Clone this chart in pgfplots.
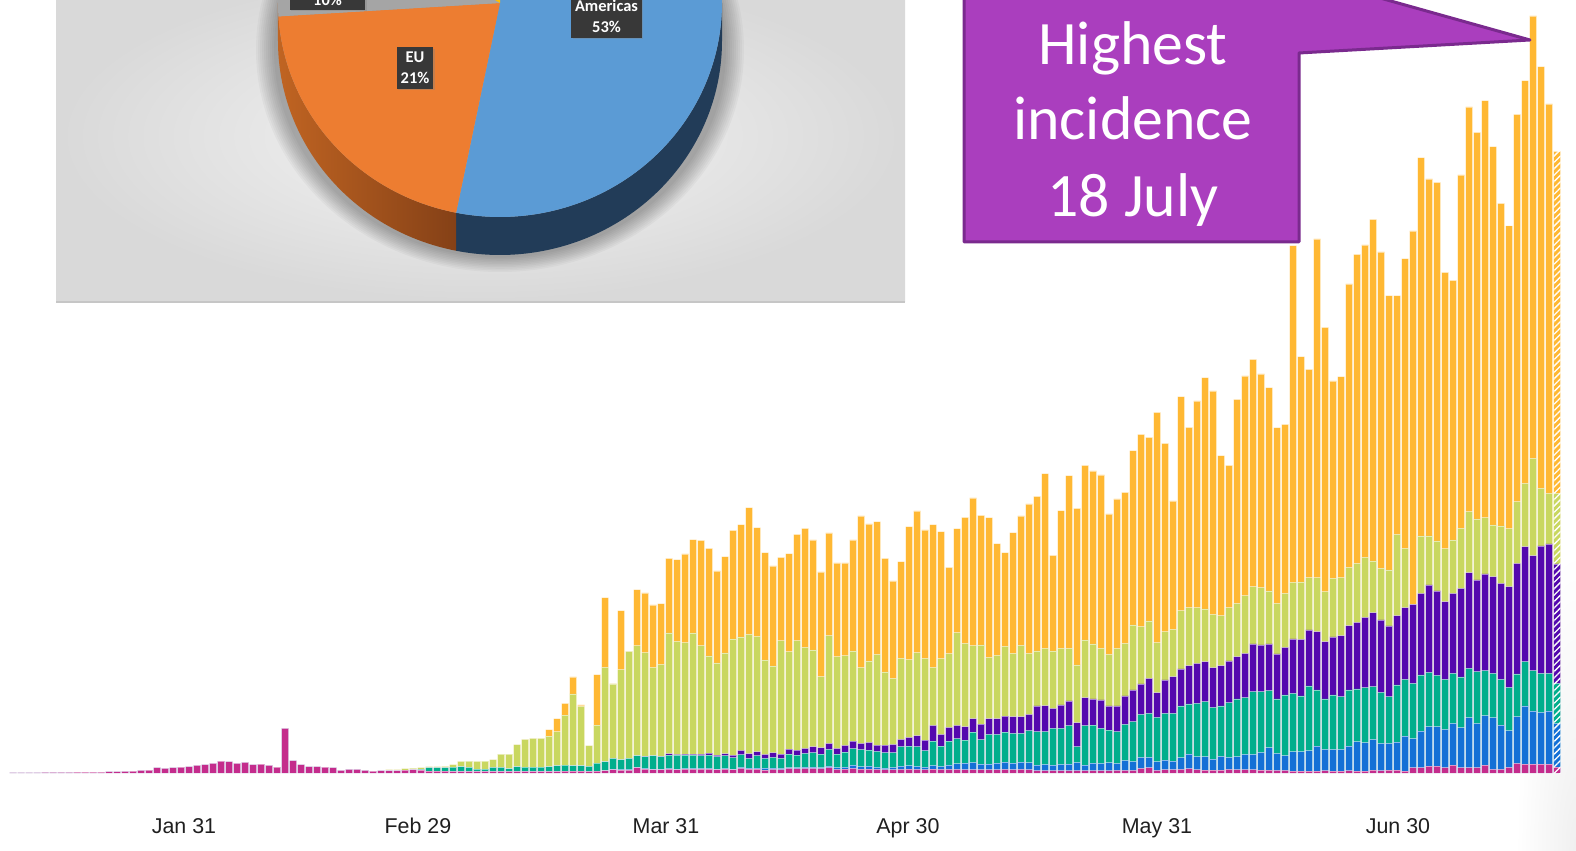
\documentclass[border=0pt]{standalone}
\usepackage{fontspec}
\setmainfont{Liberation Sans}
\newfontfamily\carlito{Carlito}
\usepackage{pgfplots}
\pgfplotsset{compat=1.18}
\usepackage{pgfplotstable}
\usetikzlibrary{patterns.meta,shadows}

\definecolor{cMa}{RGB}{196,44,140}
\definecolor{cBl}{RGB}{20,112,214}
\definecolor{cTe}{RGB}{0,174,140}
\definecolor{cPu}{RGB}{84,8,174}
\definecolor{cGr}{RGB}{201,215,96}
\definecolor{cOr}{RGB}{255,184,51}
\definecolor{pieBlue}{RGB}{91,155,213}
\definecolor{pieOrange}{RGB}{237,125,49}
\definecolor{pieGray}{RGB}{165,165,165}
\definecolor{pieGold}{RGB}{255,192,0}
\definecolor{pieBlueSide}{RGB}{34,60,88}
\definecolor{pieOrLight}{RGB}{192,100,34}
\definecolor{pieOrDark}{RGB}{118,56,20}
\definecolor{calloutFill}{RGB}{170,62,190}
\definecolor{calloutLine}{RGB}{122,42,142}

% cumulative heights of the stacked layers (bottom to top):
% m = magenta, b = blue, t = teal, p = purple, g = light green, o = orange (total)
\pgfplotstableread{
d m b t p g o
10 0.5 0.5 0.5 0.5 0.5 0.5
11 0.5 0.5 0.5 0.5 0.5 0.5
12 0.5 0.5 0.5 0.5 0.5 0.5
13 0.5 0.5 0.5 0.5 0.5 0.5
14 0.6 0.6 0.6 0.6 0.6 0.6
15 0.6 0.6 0.6 0.6 0.6 0.6
16 0.7 0.7 0.7 0.7 0.7 0.7
17 0.7 0.7 0.7 0.7 0.7 0.7
18 0.8 0.8 0.8 0.8 0.8 0.8
19 0.8 0.8 0.8 0.8 0.8 0.8
20 1.0 1.0 1.0 1.0 1.0 1.0
21 1.0 1.0 1.0 1.0 1.0 1.0
22 1.3 1.3 1.3 1.3 1.3 1.3
23 1.5 1.5 1.5 1.5 1.5 1.5
24 1.7 1.7 1.7 1.7 1.7 1.7
25 2.0 2.0 2.0 2.0 2.0 2.0
26 2.7 2.7 2.7 2.7 2.7 2.7
27 3.0 3.0 3.0 3.0 3.0 3.0
28 5.3 5.3 5.3 5.3 5.3 5.3
29 4.7 4.7 4.7 4.7 4.7 4.7
30 5.3 5.3 5.3 5.3 5.3 5.3
31 6.0 6.0 6.0 6.0 6.0 6.0
32 6.3 6.3 6.3 6.3 6.3 6.3
33 7.7 7.7 7.7 7.7 7.7 7.7
34 8.3 8.3 8.3 8.3 8.3 8.3
35 9.7 9.7 9.7 9.7 9.7 9.7
36 12.0 12.0 12.0 12.0 12.0 12.0
37 11.3 11.3 11.3 11.3 11.3 11.3
38 9.7 9.7 9.7 9.7 9.7 9.7
39 10.7 10.7 10.7 10.7 10.7 10.7
40 8.3 8.3 8.3 8.3 8.3 8.3
41 9.0 9.0 9.0 9.0 9.0 9.0
42 7.7 7.7 7.7 7.7 7.7 7.7
43 6.0 6.0 6.0 6.0 6.0 6.0
44 44.7 44.7 44.7 44.7 44.7 44.7
45 12.3 12.3 12.3 12.3 12.3 12.3
46 8.3 8.3 8.3 8.3 8.3 8.3
47 6.3 6.3 6.3 6.3 6.3 6.3
48 6.3 6.3 6.3 6.3 6.3 6.3
49 6.0 6.0 6.0 6.0 6.0 6.0
50 5.3 5.3 5.3 5.3 5.3 5.3
51 2.7 2.7 2.7 2.7 2.7 2.7
52 3.7 3.7 3.7 3.7 3.7 3.7
53 3.7 3.7 3.7 3.7 3.7 3.7
54 2.7 2.7 2.7 2.7 2.7 2.7
55 2.0 2.0 2.0 2.0 2.0 2.0
56 2.3 2.3 2.3 2.3 2.3 2.3
57 2.3 2.3 2.3 2.3 3.3 3.3
58 2.3 2.3 2.3 2.3 3.3 3.3
59 3.0 3.0 3.0 3.0 4.3 4.3
60 3.3 3.3 3.3 3.3 5.0 5.0
61 3.0 3.0 3.7 3.7 5.3 5.3
62 2.0 2.0 5.3 5.3 6.3 6.3
63 2.0 2.0 5.3 5.3 6.3 6.3
64 2.0 2.0 5.3 5.3 6.7 6.7
65 1.7 1.7 6.0 6.0 8.3 8.3
66 1.7 1.7 6.3 6.3 11.7 11.7
67 1.7 1.7 5.7 5.7 12.0 12.0
68 1.7 1.7 4.0 4.0 11.7 11.7
69 1.7 1.7 4.0 4.0 12.0 12.0
70 1.7 1.7 5.7 5.7 13.3 13.3
71 1.7 1.7 5.7 5.7 19.0 19.0
72 1.7 1.7 4.3 4.3 19.0 19.0
73 1.7 1.7 6.3 6.3 28.3 28.3
74 1.7 1.7 6.0 6.0 33.7 33.7
75 1.7 1.7 6.0 6.0 34.7 34.7
76 1.7 1.7 6.0 6.0 34.7 34.7
77 1.7 1.7 6.3 6.3 37.0 43.3
78 1.7 1.7 7.3 7.3 41.5 54.3
79 2.0 2.0 8.0 8.0 58.0 69.7
80 2.0 2.0 7.3 7.3 79.0 96.0
81 2.0 2.0 7.3 7.3 66.7 68.0
82 1.7 1.7 6.7 6.7 27.3 27.3
83 2.0 2.0 10.0 10.0 48.0 98.3
84 2.3 2.3 11.3 11.3 105.7 175.3
85 3.3 4.0 14.7 14.7 89.0 89.0
86 3.0 3.7 13.3 13.3 103.3 162.3
87 3.0 3.7 14.7 14.7 121.7 121.7
88 5.3 6.0 17.3 17.3 127.3 183.3
89 4.0 4.7 16.3 17.0 120.3 180.0
90 3.3 4.0 17.3 17.3 105.7 168.0
91 3.3 4.0 16.3 17.0 108.7 169.3
92 4.0 4.7 18.0 19.3 140.0 214.7
93 3.3 4.0 18.0 18.7 131.7 213.3
94 4.0 4.7 18.0 19.0 130.3 219.0
95 4.0 4.7 18.0 19.0 140.0 233.3
96 4.0 4.7 17.3 19.0 127.3 232.7
97 4.0 4.7 18.0 20.0 117.0 224.7
98 3.3 4.0 16.3 18.0 110.0 202.0
99 4.0 4.7 17.3 19.3 120.0 216.3
100 3.3 4.0 15.3 18.0 134.0 242.7
101 4.7 5.7 18.3 22.7 136.0 248.3
102 4.0 5.0 14.7 19.3 138.7 265.3
103 4.0 5.0 17.3 21.3 136.7 245.3
104 3.0 5.0 14.7 18.7 113.0 220.3
105 3.7 5.0 15.7 20.3 107.0 207.0
106 3.3 4.7 14.7 19.0 132.3 215.7
107 4.7 5.5 19.0 24.0 121.3 219.3
108 4.3 5.5 18.0 23.0 132.3 238.7
109 4.7 6.0 19.7 24.7 125.7 244.7
110 4.7 6.0 20.3 26.3 123.0 233.0
111 4.3 5.5 19.0 25.3 96.3 201.0
112 5.3 7.0 23.7 29.7 137.3 240.0
113 3.7 5.5 19.0 24.7 116.3 210.0
114 4.0 6.0 21.0 27.7 117.3 210.0
115 4.7 8.0 24.3 32.0 122.0 233.0
116 4.0 6.3 23.3 29.7 105.3 257.0
117 4.0 7.0 23.0 30.7 112.0 249.0
118 3.7 5.7 21.7 28.0 118.7 251.3
119 3.3 5.0 20.3 28.0 101.0 214.7
120 3.3 5.7 20.3 28.7 94.7 192.0
121 3.7 7.0 26.3 33.7 114.7 211.3
122 4.0 7.3 27.0 35.7 113.3 246.3
123 3.7 6.7 26.3 37.3 120.3 262.0
124 3.3 6.0 22.3 33.0 114.7 243.0
125 4.0 7.7 32.0 47.7 105.7 248.3
126 3.7 6.7 27.0 38.7 114.3 241.3
127 3.7 8.0 32.0 45.7 119.3 205.7
128 3.7 9.3 34.3 47.7 140.3 244.3
129 3.3 10.0 33.0 46.3 129.7 255.7
130 3.3 10.7 41.0 54.3 127.3 275.0
131 3.3 9.0 33.3 49.0 128.0 257.7
132 3.3 9.0 38.7 54.3 115.7 255.3
133 3.3 10.0 38.7 54.3 117.7 229.3
134 3.7 11.0 41.0 57.0 126.7 220.3
135 3.3 10.0 39.7 56.3 119.7 240.3
136 3.7 11.0 39.7 56.3 127.7 257.0
137 3.3 10.3 42.3 58.7 119.7 269.0
138 2.3 8.0 41.3 67.0 122.0 276.7
139 2.3 8.7 41.3 67.3 124.7 299.3
140 2.3 8.0 44.7 64.7 122.0 217.7
141 2.3 8.7 44.7 68.0 124.7 262.3
142 2.3 9.0 47.3 72.0 124.7 297.3
143 2.3 10.7 26.3 50.3 108.0 264.7
144 2.3 8.0 47.3 75.3 133.0 307.7
145 2.3 10.0 48.0 74.0 129.0 302.0
146 2.3 9.7 44.7 73.0 124.7 298.0
147 2.3 10.3 43.0 67.0 118.7 259.0
148 2.7 9.7 41.3 67.0 124.7 274.0
149 2.7 12.7 48.7 77.0 129.7 280.7
150 2.7 11.7 51.3 83.0 148.0 322.3
151 4.7 15.7 58.7 89.0 146.3 338.7
152 5.3 15.7 59.7 94.7 152.0 335.7
153 2.7 11.3 55.7 80.3 130.3 360.7
154 3.3 13.0 59.7 93.0 141.3 329.7
155 3.3 12.0 59.7 96.3 143.7 272.0
156 3.7 15.3 67.0 104.0 162.3 376.3
157 4.3 19.0 69.0 107.3 165.3 345.7
158 3.3 16.3 69.7 109.7 165.3 372.0
159 3.0 16.3 71.3 111.3 164.0 395.3
160 3.0 14.0 65.7 105.3 158.7 382.0
161 3.0 16.7 67.0 107.3 157.3 317.3
162 3.7 15.7 70.3 112.0 165.3 307.7
163 3.3 16.3 74.0 116.3 169.7 373.7
164 3.3 18.7 75.3 119.7 177.3 397.0
165 3.3 18.7 81.3 129.0 186.3 413.7
166 3.0 20.7 81.3 128.0 185.3 399.0
167 3.0 25.3 82.3 129.0 182.0 385.3
168 2.7 19.7 74.0 119.0 169.7 345.3
169 2.7 17.5 78.0 125.5 179.7 348.7
170 2.0 21.3 79.7 134.0 190.5 527.3
171 2.0 21.3 77.0 133.7 191.0 416.3
172 2.0 22.3 87.0 143.0 195.3 403.7
173 2.0 27.0 83.0 141.3 195.3 534.0
174 2.3 23.7 74.0 131.3 181.3 445.7
175 2.0 23.7 78.0 136.0 194.7 392.0
176 2.0 23.7 76.3 137.3 195.3 396.3
177 2.3 27.0 83.0 147.3 205.7 489.0
178 2.0 31.3 84.0 150.7 209.7 518.7
179 2.0 30.3 85.3 155.7 215.7 528.0
180 3.0 33.7 86.3 160.3 212.0 553.7
181 2.3 29.7 80.7 153.0 204.7 521.0
182 3.0 29.7 76.3 147.0 203.0 477.3
183 3.0 31.0 88.0 157.3 238.7 477.3
184 2.0 37.0 93.7 165.3 224.7 514.3
185 5.3 34.3 89.7 168.7 168.7 542.0
186 5.3 42.0 98.0 179.7 237.0 615.3
187 7.0 46.3 100.7 188.0 237.0 594.0
188 7.0 46.3 97.7 182.0 232.0 590.7
189 5.3 43.7 93.7 171.3 224.3 500.7
190 8.0 49.7 99.7 179.7 233.0 492.7
191 5.3 45.3 96.0 184.7 244.7 598.0
192 5.3 55.3 104.7 200.3 261.3 666.0
193 5.3 49.7 101.3 193.0 254.0 640.5
194 8.0 57.3 102.3 199.0 255.3 672.3
195 3.7 55.3 99.7 196.3 248.0 626.3
196 3.7 48.0 93.7 189.7 247.0 569.7
197 5.7 42.3 85.7 186.3 244.3 547.2
198 9.7 56.3 99.0 209.7 271.3 658.7
199 9.0 67.0 111.3 226.3 289.7 692.3
200 9.0 62.0 102.3 217.3 314.7 757.0
201 9.0 60.7 99.7 227.0 284.7 706.3
202 9.0 62.0 99.7 229.0 279.7 669.0
203 6.0 49.7 89.7 209.0 279.7 621.7
}\bars

\pgfplotstableread{
d o
203 621.7
}\lastbar

\begin{document}
\begin{tikzpicture}
\useasboundingbox (0,-78bp) rectangle (1576bp,773bp);

% ---------- pie chart inset (pixel coordinates, origin top-left) ----------
\begin{scope}[shift={(0,773bp)}, x=1bp, y=-1bp]
  \shade[inner color=gray!8, outer color=gray!30] (56,-30) rectangle (905,302);
  \draw[gray!45, line width=1.2bp] (56,302) -- (905,302);
  % soft shadow of the pie
  \foreach \k in {0,...,9} {
    \fill[black, opacity=0.032] (500,50) ellipse [x radius={(244-2*\k)*1bp}, y radius={(222-1.6*\k)*1bp}];
  }
  % sides
  \fill[pieBlueSide] (500,3) ++(0:222bp and 214bp)
     arc[start angle=0, end angle=-101.4, x radius=222bp, y radius=214bp]
     -- ++(0,38)
     arc[start angle=-101.4, end angle=0, x radius=222bp, y radius=214bp] -- cycle;
  \shade[left color=pieOrLight, right color=pieOrDark] (500,3) ++(-101.4:222bp and 214bp)
     arc[start angle=-101.4, end angle=-180, x radius=222bp, y radius=214bp]
     -- ++(0,38)
     arc[start angle=-180, end angle=-101.4, x radius=222bp, y radius=214bp] -- cycle;
  % top faces
  \fill[pieBlue] (500,3) -- ++(89.4:222bp and 214bp)
     arc[start angle=89.4, end angle=-101.4, x radius=222bp, y radius=214bp] -- cycle;
  \fill[pieOrange] (500,3) -- ++(-101.4:222bp and 214bp)
     arc[start angle=-101.4, end angle=-176.4, x radius=222bp, y radius=214bp] -- cycle;
  \fill[pieGray] (500,3) -- ++(-176.4:222bp and 214bp)
     arc[start angle=-176.4, end angle=-212.4, x radius=222bp, y radius=214bp] -- cycle;
  \fill[pieGold] (500,3) -- ++(-212.4:222bp and 214bp)
     arc[start angle=-212.4, end angle=-270.6, x radius=222bp, y radius=214bp] -- cycle;
  % data labels
  \tikzset{plab/.style={fill=black!78, text=white, align=center,
      font=\carlito\bfseries\fontsize{16.5}{21}\selectfont,
      inner xsep=4bp, inner ysep=5bp,
      drop shadow={shadow xshift=1.5bp, shadow yshift=-1.5bp, opacity=0.35}}}
  \node[plab] at (415,68) {EU\\21\%};
  \node[plab, anchor=south] at (606.5,38) {Americas\\53\%};
  \node[plab, anchor=south, minimum width=75bp, inner ysep=4bp] at (327.5,10) {10\%};
  % faint corner shading bottom right
  \shade[inner color=gray!12, outer color=white] (1576,851) ellipse [x radius=60bp, y radius=300bp];
\end{scope}

% ---------- stacked daily bars ----------
\begin{axis}[
  at={(0,0)}, anchor=south west,
  scale only axis, width=1576bp, height=773bp,
  xmin=8.375, xmax=205.375, ymin=0, ymax=773,
  hide y axis, axis line style={draw=none},
  xtick={31.375,60.625,91.625,121.875,153.0,183.125},
  xticklabels={Jan 31,Feb 29,Mar 31,Apr 30,May 31,Jun 30},
  xtick style={draw=none}, major tick length=0pt,
  xticklabel style={anchor=base, yshift=-60bp, text=black!88,
     font=\fontsize{21.5}{24}\selectfont},
  ybar, bar width=7bp,
  lay/.style={bar shift=0pt, draw=white, draw opacity=0.5, line width=0.6bp},
]
\addplot[lay, fill=cOr] table[x=d,y=o]{\bars};
\addplot[lay, fill=cGr] table[x=d,y=g]{\bars};
\addplot[lay, fill=cPu] table[x=d,y=p]{\bars};
\addplot[lay, fill=cTe] table[x=d,y=t]{\bars};
\addplot[lay, fill=cBl] table[x=d,y=b]{\bars};
\addplot[lay, fill=cMa] table[x=d,y=m]{\bars};
% last (incomplete) day is hatched
\addplot[bar shift=0pt, draw=none,
   pattern={Lines[angle=45, distance=4.5bp, line width=1.3bp]}, pattern color=white]
   table[x=d,y=o]{\lastbar};
\end{axis}

% ---------- callout ----------
\begin{scope}[shift={(0,773bp)}, x=1bp, y=-1bp]
  \draw[fill=calloutFill, draw=calloutLine, line width=3bp, line join=round]
    (964,-60) -- (964,242) -- (1299,242) -- (1299,53) -- (1530,40) -- (1173,-60) -- cycle;
  \tikzset{ctext/.style={anchor=base, text=white, font=\carlito\fontsize{62}{75}\selectfont}}
  \node[ctext] at (1133,65) {Highest};
  \node[ctext] at (1133,140) {incidence};
  \node[ctext] at (1133,217) {18 July};
\end{scope}
\end{tikzpicture}
\end{document}
